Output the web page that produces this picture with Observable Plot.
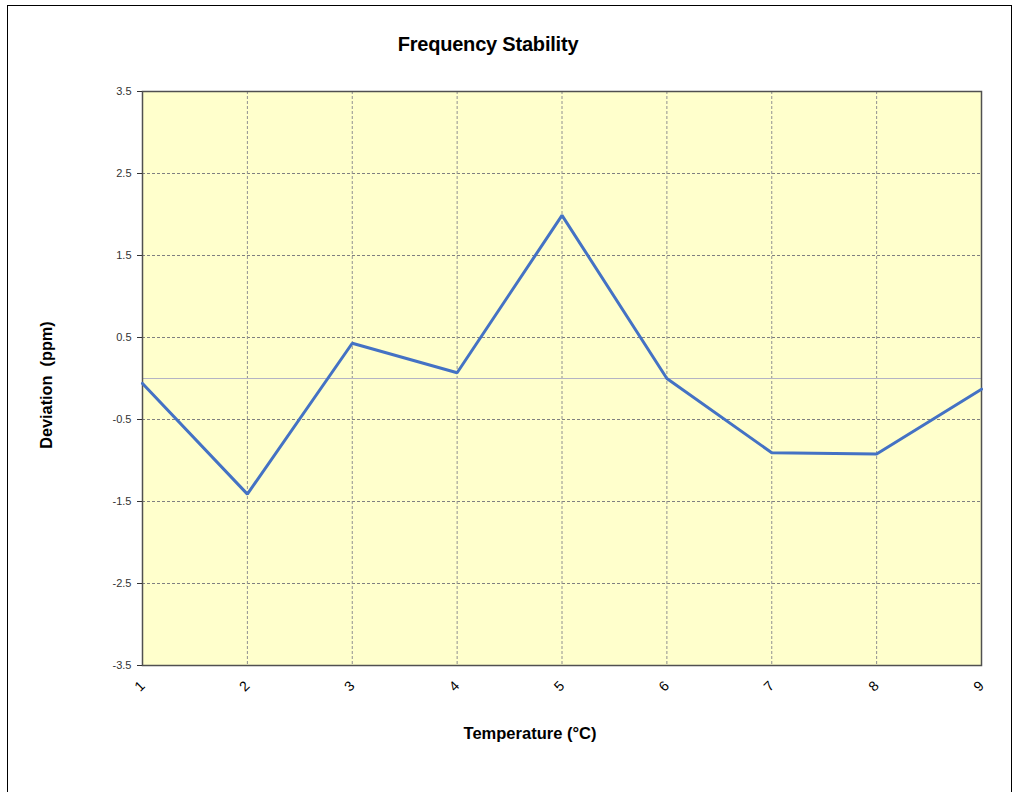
<!DOCTYPE html>
<html>
<head>
<meta charset="utf-8">
<script src="https://cdn.jsdelivr.net/npm/d3@7"></script>
<script src="https://cdn.jsdelivr.net/npm/@observablehq/plot@0.6"></script>
<style>
  html, body { margin: 0; padding: 0; background: #fff; }
  body { width: 1018px; height: 792px; position: relative; overflow: hidden; font-family: "Liberation Sans", Arial, sans-serif; }
  #border { position: absolute; left: 7px; top: 5px; width: 1005px; height: 800px; border: 1.5px solid #000; box-sizing: border-box; }
  #title { position: absolute; left: 0; width: 976px; top: 33px; text-align: center; font-weight: bold; font-size: 20px; color: #000; letter-spacing: -0.2px; }
  #xlabel { position: absolute; left: 330px; width: 400px; top: 724px; text-align: center; font-weight: bold; font-size: 16.5px; color: #000; }
  #ylabel { position: absolute; left: 46px; top: 385px; transform: translate(-50%, -50%) rotate(-90deg); white-space: nowrap; font-weight: bold; font-size: 16.3px; color: #000; }
  #chart { position: absolute; left: 0; top: 0; }
</style>
</head>
<body>
<div id="border"></div>
<div id="chart"></div>
<div id="title">Frequency Stability</div>
<div id="xlabel">Temperature (°C)</div>
<div id="ylabel">Deviation&nbsp; (ppm)</div>
<script>
const temperatures = [1, 2, 3, 4, 5, 6, 7, 8, 9];
const deviations = [-0.06, -1.41, 0.43, 0.07, 1.99, 0.0, -0.905, -0.92, -0.13];
const yTicks = [-3.5, -2.5, -1.5, -0.5, 0.5, 1.5, 2.5, 3.5];
const xTicks = [1, 2, 3, 4, 5, 6, 7, 8, 9];
const xGrid = [2, 3, 4, 5, 6, 7, 8];

const data = temperatures.map((t, i) => ({t, d: deviations[i]}));

const chart = Plot.plot({
  width: 1018,
  height: 792,
  marginTop: 91,
  marginLeft: 142,
  marginRight: 37,
  marginBottom: 127,
  style: {fontFamily: "'Liberation Sans', Arial, sans-serif", background: "transparent"},
  x: {domain: [1, 9]},
  y: {domain: [-3.5, 3.5]},
  marks: [
    Plot.frame({fill: "#ffffcc", stroke: null}),
    Plot.gridY(yTicks, {stroke: "#808080", strokeOpacity: 1, strokeDasharray: "3,2", strokeWidth: 1}),
    Plot.gridX(xGrid, {stroke: "#909090", strokeOpacity: 1, strokeDasharray: "3,2", strokeWidth: 1}),
    Plot.ruleY([0], {stroke: "#b4b4c4", strokeWidth: 1.2}),
    Plot.frame({stroke: "#505050", strokeWidth: 1.5}),
    Plot.axisY(yTicks, {
      tickSize: 5, tickPadding: 6, fontSize: 11, color: "#333",
      tickFormat: d => String(d), label: null
    }),
    Plot.axisX(xTicks, {
      tickSize: 0, tickPadding: 18, fontSize: 14, color: "#000",
      tickRotate: -45, tickFormat: d => String(d), label: null
    }),
    Plot.line(data, {x: "t", y: "d", stroke: "#4472c4", strokeWidth: 3, strokeLinejoin: "miter"})
  ]
});
document.getElementById("chart").appendChild(chart);
</script>
</body>
</html>
